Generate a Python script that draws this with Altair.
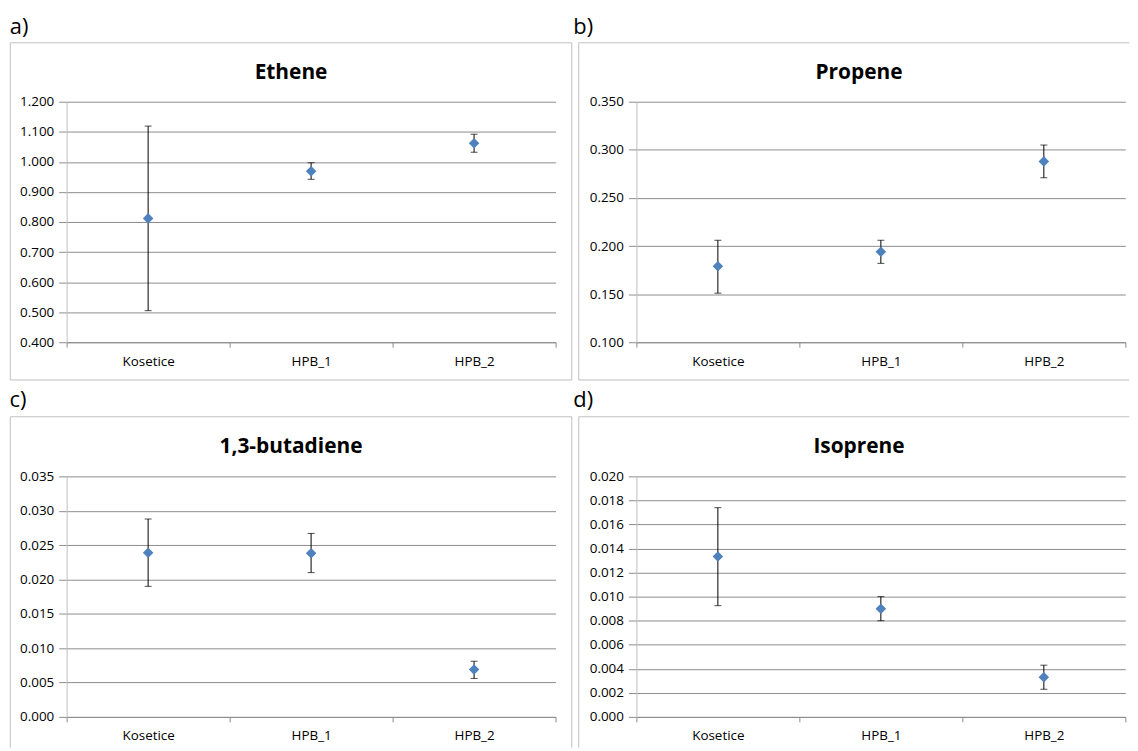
import altair as alt
import pandas as pd

# ---------------- data ----------------
categories = ["Kosetice", "HPB_1", "HPB_2"]

ethene_mean = [0.812, 0.969, 1.062]
ethene_lo = [0.505, 0.942, 1.032]
ethene_hi = [1.119, 0.997, 1.092]

propene_mean = [0.179, 0.194, 0.288]
propene_lo = [0.151, 0.182, 0.271]
propene_hi = [0.206, 0.206, 0.305]

butadiene_mean = [0.0239, 0.0238, 0.0069]
butadiene_lo = [0.0190, 0.0210, 0.0056]
butadiene_hi = [0.0288, 0.0267, 0.0081]

isoprene_mean = [0.01334, 0.0090, 0.0033]
isoprene_lo = [0.00925, 0.0080, 0.0023]
isoprene_hi = [0.0174, 0.0100, 0.0043]

ethene_ticks = [0.4, 0.5, 0.6, 0.7, 0.8, 0.9, 1.0, 1.1, 1.2]
propene_ticks = [0.10, 0.15, 0.20, 0.25, 0.30, 0.35]
butadiene_ticks = [0.000, 0.005, 0.010, 0.015, 0.020, 0.025, 0.030, 0.035]
isoprene_ticks = [0.000, 0.002, 0.004, 0.006, 0.008, 0.010, 0.012, 0.014, 0.016, 0.018, 0.020]

FONT = "Open Sans"
GRID = "#8c8c8c"
BORDER = "#bfbfbf"
BLUE = "#4f81bd"

PW, PH = 492, 242  # plot area of every panel


def one():
    return alt.Data(values=[{"k": 0}])


def panel(title, letter, mean, lo, hi, ticks, geo):
    df = pd.DataFrame({"site": categories, "mean": mean, "lo": lo, "hi": hi})
    base = alt.Chart(df)
    x = alt.X(
        "site:N",
        sort=categories,
        scale=alt.Scale(type="band", paddingInner=0, paddingOuter=0),
        axis=alt.Axis(
            title=None, labelAngle=0, tickBand="extent", tickSize=5,
            tickColor=GRID, domainColor=GRID, labelPadding=7,
            labelFont=FONT, labelFontSize=13.5, labelColor="#000000", grid=False,
        ),
    )
    yscale = alt.Scale(domain=[ticks[0], ticks[-1]], nice=False, zero=False)
    yaxis = alt.Axis(
        values=ticks, format=".3f", title=None, grid=True, gridColor=GRID,
        gridWidth=1, domainColor=BORDER, tickColor=GRID, tickSize=8,
        labelPadding=5, labelFont=FONT, labelFontSize=13.5, labelColor="#000000",
        labelOverlap=False, labelBound=False, labelFlush=False,
    )

    def Y(field):
        return alt.Y(field, scale=yscale, axis=yaxis, title=None)

    layers = []
    if "anchor" in geo:
        ax0, ay0 = geo["anchor"]
        layers.append(
            alt.Chart(one()).mark_rect(opacity=0).encode(
                x=alt.value(ax0), x2=alt.value(ax0 + 4), y=alt.value(ay0), y2=alt.value(ay0 + 4)
            )
        )
    # panel border lines
    for (x0, x1, y0, y1) in geo["lines"]:
        layers.append(
            alt.Chart(one()).mark_rule(color=BORDER, strokeWidth=1).encode(
                x=alt.value(x0), x2=alt.value(x1), y=alt.value(y0), y2=alt.value(y1)
            )
        )
    # error bars and markers
    layers.append(
        base.mark_rule(color="black", strokeWidth=1).encode(x=x, y=Y("lo:Q"), y2="hi:Q")
    )
    layers.append(
        base.mark_tick(color="black", thickness=1, size=7).encode(x=x, y=Y("lo:Q"))
    )
    layers.append(
        base.mark_tick(color="black", thickness=1, size=7).encode(x=x, y=Y("hi:Q"))
    )
    layers.append(
        base.mark_point(shape="diamond", filled=True, size=112, color=BLUE, opacity=1).encode(
            x=x, y=Y("mean:Q")
        )
    )
    # title and panel letter
    tx, ty = geo["title"]
    layers.append(
        alt.Chart(one()).mark_text(
            align="center", baseline="alphabetic", font=FONT, fontSize=21, fontWeight="bold", color="#000000"
        ).encode(x=alt.value(tx), y=alt.value(ty), text=alt.value(title))
    )
    lx, ly = geo["letter"]
    layers.append(
        alt.Chart(one()).mark_text(
            align="left", baseline="alphabetic", font=FONT, fontSize=22, color="#000000"
        ).encode(x=alt.value(lx), y=alt.value(ly), text=alt.value(letter))
    )
    return alt.layer(*layers).properties(width=PW, height=PH)


# geometry relative to each panel's plot area (page: a/c plot at x=66.7, b/d at 640; a/b y=100, c/d y=477)
geo_a = {
    "anchor": (-58.7, -92),
    "lines": [
        (-56.7, -56.7, -59.3, 280),
        (508.3, 508.3, -59.3, 280),
        (-56.7, 508.3, -59.3, -59.3),
        (-56.7, 508.3, 280, 280),
    ],
    "title": (225.8, -23.3),
    "letter": (-57.2, -68.5),
}
geo_b = {
    "lines": [
        (-58, -58, -59.3, 280),
        (-58, 496, -59.3, -59.3),
        (-58, 496, 280, 280),
    ],
    "title": (224, -23.3),
    "letter": (-63.5, -68.5),
}
geo_c = {
    "lines": [
        (-56.7, -56.7, -60, 273),
        (508.3, 508.3, -60, 273),
        (-56.7, 508.3, -60, -60),
    ],
    "title": (225.8, -24),
    "letter": (-57.5, -69.5),
}
geo_d = {
    "lines": [
        (-58, -58, -60, 273),
        (-58, 496, -60, -60),
    ],
    "title": (224, -24),
    "letter": (-63.5, -69.5),
}

pa = panel("Ethene", "a)", ethene_mean, ethene_lo, ethene_hi, ethene_ticks, geo_a)
pb = panel("Propene", "b)", propene_mean, propene_lo, propene_hi, propene_ticks, geo_b)
pc = panel("1,3-butadiene", "c)", butadiene_mean, butadiene_lo, butadiene_hi, butadiene_ticks, geo_c)
pd_ = panel("Isoprene", "d)", isoprene_mean, isoprene_lo, isoprene_hi, isoprene_ticks, geo_d)

chart = alt.concat(
    pa, pb, pc, pd_,
    columns=2,
    bounds="flush",
    spacing={"row": 135, "column": 81.3},
).properties(padding=0).configure_view(stroke=None)

chart.save("out.html", embed_options={"renderer": "svg", "actions": False})
